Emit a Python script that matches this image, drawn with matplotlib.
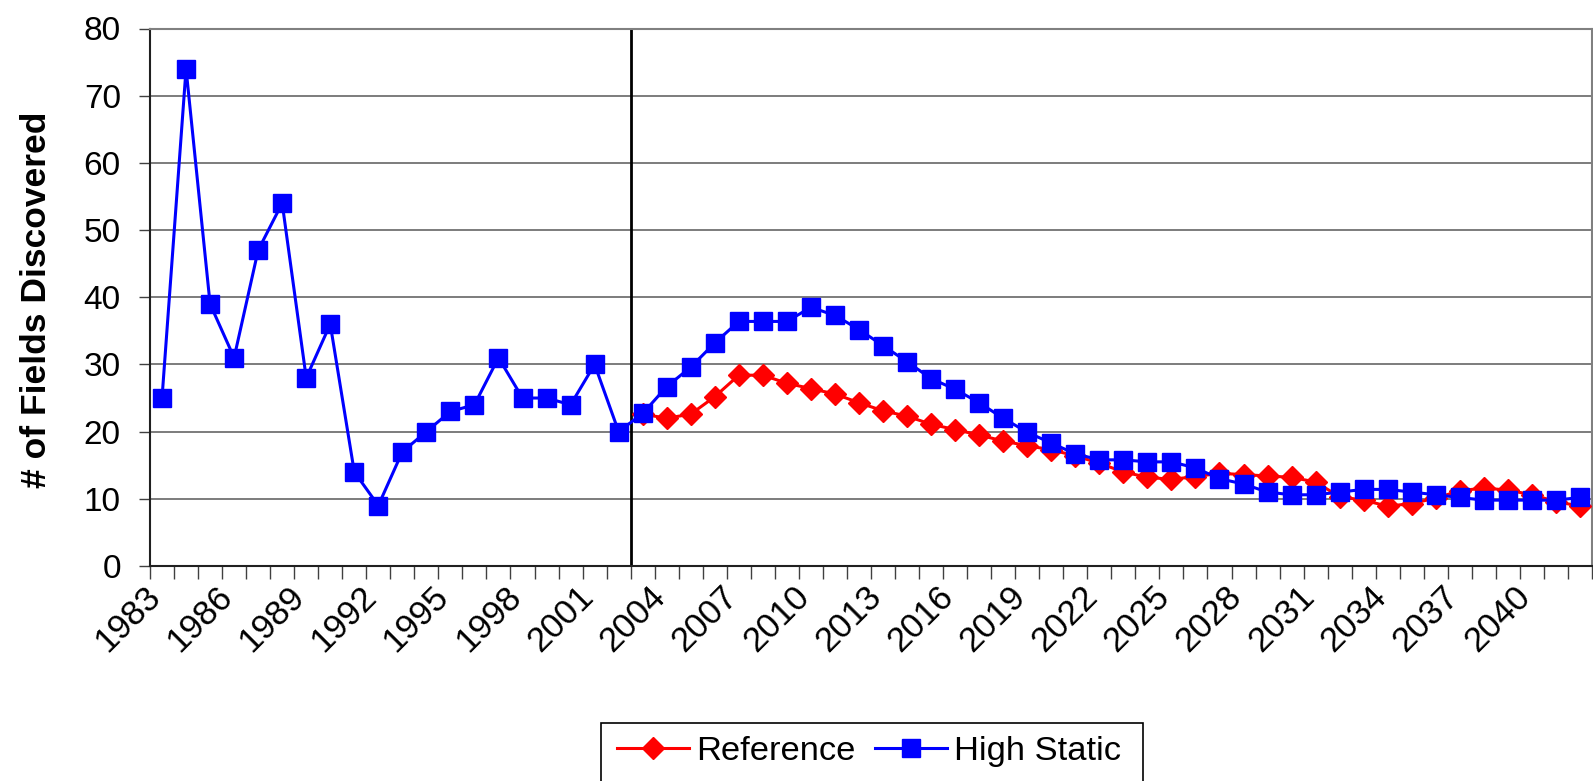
import matplotlib
matplotlib.use("Agg")
import matplotlib.pyplot as plt
from matplotlib.patches import Rectangle
import numpy as np

years = list(range(1983, 2043))
high_static = [25, 74, 39, 31, 47, 54, 28, 36, 14, 9,
               17, 20, 23, 24, 31, 25, 25, 24, 30, 20,
               22.7, 26.7, 29.6, 33.2, 36.4, 36.4, 36.4, 38.5, 37.3, 35.2,
               32.8, 30.4, 27.9, 26.3, 24.3, 22.0, 19.9, 18.3, 16.7, 15.8,
               15.8, 15.5, 15.5, 14.6, 13.0, 12.2, 11.0, 10.6, 10.6, 11.0,
               11.4, 11.4, 11.0, 10.6, 10.2, 9.8, 9.8, 9.8, 9.8, 10.2]
reference = [None] * 20 + [
    22.6, 22.0, 22.6, 25.2, 28.4, 28.4, 27.2, 26.4, 25.6, 24.3,
    23.1, 22.3, 21.1, 20.3, 19.5, 18.6, 17.9, 17.3, 16.4, 15.3,
    14.0, 13.2, 12.9, 13.3, 13.8, 13.6, 13.4, 13.2, 12.5, 10.3,
    9.8, 8.9, 9.3, 10.1, 11.2, 11.6, 11.3, 10.6, 9.6, 8.9]
divider_year = 2002.5
y_ticks = [0, 10, 20, 30, 40, 50, 60, 70, 80]

plt.rcParams['font.family'] = ['Liberation Sans', 'DejaVu Sans']

W, H = 1593, 781
fig = plt.figure(figsize=(W / 100, H / 100), dpi=100)
L, R, T, B = 150, 1592, 28.5, 566
ax = fig.add_axes([L / W, 1 - B / H, (R - L) / W, (B - T) / H])

x = np.arange(len(years))
ref = np.array([np.nan if v is None else v for v in reference], dtype=float)

ax.plot(x, ref, color='#ff0000', lw=2.2, marker='D', ms=11,
        mec='#ff0000', mfc='#ff0000', mew=1, label='Reference', zorder=3)
ax.plot(x, high_static, color='#0000ff', lw=2.2, marker='s', ms=13,
        mec='#0000ff', mfc='#0000ff', mew=1, label='High Static', zorder=4)

div_x = years.index(int(divider_year - 0.5)) + 0.5
ax.axvline(div_x, color='black', lw=2.0, zorder=2)

ax.set_xlim(-0.5, len(years) - 0.5)
ax.set_ylim(0, 80)
ax.set_yticks(y_ticks)
ax.set_yticklabels([str(v) for v in y_ticks], fontsize=24)
ax.yaxis.grid(True, color='#666666', lw=1.2)
ax.set_axisbelow(True)

# category boundary ticks
ax.set_xticks(np.arange(-0.5, len(years), 1))
ax.set_xticklabels([])
ax.tick_params(axis='x', which='major', direction='out', length=9, width=1, color='#404040')
ax.tick_params(axis='y', direction='out', length=8, width=1, color='#404040', pad=13)

# labels at category centres every 3 years
lab_idx = x[::3]
ax.set_xticks(lab_idx, minor=True)
ax.set_xticklabels([str(years[i]) for i in lab_idx], minor=True, fontsize=25)
ax.tick_params(axis='x', which='minor', length=0, pad=23)
for lbl in ax.get_xticklabels(minor=True):
    lbl.set_rotation(45)
    lbl.set_ha('right')
    lbl.set_va('baseline')
    lbl.set_rotation_mode('anchor')

for side in ['left', 'bottom']:
    ax.spines[side].set_color('#202020')
    ax.spines[side].set_linewidth(1.5)
for side in ['top', 'right']:
    ax.spines[side].set_color('#808080')
    ax.spines[side].set_linewidth(1.5)

fig.text(37 / W, 1 - 300 / H, '# of Fields Discovered', rotation=90,
         fontsize=25.5, fontweight='bold', ha='center', va='center')

# legend box (bottom edge runs off the figure as in the source)
fig.patches.append(Rectangle((601 / W, 1 - 800 / H), (1143 - 601) / W, (800 - 723) / H,
                             transform=fig.transFigure, fill=False,
                             edgecolor='black', lw=1.2))
leg = fig.legend(loc='center left', bbox_to_anchor=(617 / W, 1 - 751 / H),
                 ncol=2, fontsize=24.8, frameon=False,
                 handlelength=2.1, handletextpad=0.2,
                 columnspacing=0.55, borderpad=0, borderaxespad=0)

fig.savefig('out.png', dpi=100, facecolor='white')
